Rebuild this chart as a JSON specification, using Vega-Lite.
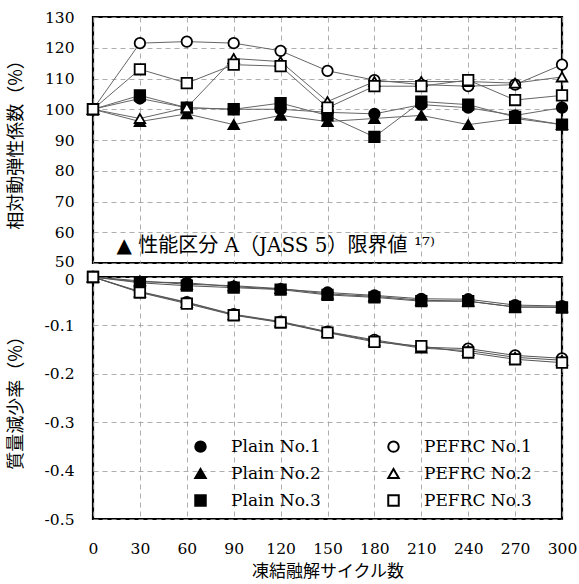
{
  "$schema": "https://vega.github.io/schema/vega-lite/v6.json",
  "background": "white",
  "padding": {"left": 5, "top": 8, "right": 4, "bottom": 0},
  "spacing": 14,
  "bounds": "flush",
  "config": {
    "font": "DejaVu Serif",
    "view": {"stroke": "black", "strokeWidth": 2.2},
    "axis": {
      "labelFont": "DejaVu Serif",
      "labelFontSize": 15.5,
      "labelColor": "black",
      "labelOverlap": false,
      "labelFlush": false,
      "ticks": false,
      "domain": false,
      "grid": true,
      "gridColor": "#999999",
      "gridDash": [5, 4],
      "gridWidth": 0.8,
      "titleFont": "Noto Sans CJK JP",
      "titleFontSize": 18,
      "titleFontWeight": "normal",
      "titleColor": "black"
    },
    "legend": {
      "orient": "none",
      "legendX": 99,
      "legendY": 421,
      "columns": 2,
      "columnPadding": 63,
      "rowPadding": 8,
      "labelFont": "DejaVu Serif",
      "labelFontSize": 17,
      "labelColor": "black",
      "labelOffset": 22,
      "symbolSize": 110,
      "symbolStrokeColor": "black",
      "symbolStrokeWidth": 2,
      "title": null
    }
  },
  "datasets": {
    "d": [
      {"series": "Plain No.1", "cycle": 0, "dyn": 100, "mass": 0},
      {"series": "Plain No.1", "cycle": 30, "dyn": 103.5, "mass": -0.01},
      {"series": "Plain No.1", "cycle": 60, "dyn": 100.5, "mass": -0.012},
      {"series": "Plain No.1", "cycle": 90, "dyn": 100, "mass": -0.02},
      {"series": "Plain No.1", "cycle": 120, "dyn": 100, "mass": -0.025},
      {"series": "Plain No.1", "cycle": 150, "dyn": 99, "mass": -0.032},
      {"series": "Plain No.1", "cycle": 180, "dyn": 98.5, "mass": -0.038},
      {"series": "Plain No.1", "cycle": 210, "dyn": 101.5, "mass": -0.045},
      {"series": "Plain No.1", "cycle": 240, "dyn": 100.5, "mass": -0.046},
      {"series": "Plain No.1", "cycle": 270, "dyn": 98, "mass": -0.058},
      {"series": "Plain No.1", "cycle": 300, "dyn": 100.5, "mass": -0.06},
      {"series": "Plain No.2", "cycle": 0, "dyn": 100, "mass": 0},
      {"series": "Plain No.2", "cycle": 30, "dyn": 96, "mass": -0.008},
      {"series": "Plain No.2", "cycle": 60, "dyn": 98.5, "mass": -0.015},
      {"series": "Plain No.2", "cycle": 90, "dyn": 95, "mass": -0.018},
      {"series": "Plain No.2", "cycle": 120, "dyn": 98, "mass": -0.024},
      {"series": "Plain No.2", "cycle": 150, "dyn": 96, "mass": -0.035},
      {"series": "Plain No.2", "cycle": 180, "dyn": 97, "mass": -0.04},
      {"series": "Plain No.2", "cycle": 210, "dyn": 98, "mass": -0.048},
      {"series": "Plain No.2", "cycle": 240, "dyn": 95, "mass": -0.05},
      {"series": "Plain No.2", "cycle": 270, "dyn": 97, "mass": -0.062},
      {"series": "Plain No.2", "cycle": 300, "dyn": 95, "mass": -0.062},
      {"series": "Plain No.3", "cycle": 0, "dyn": 100, "mass": 0},
      {"series": "Plain No.3", "cycle": 30, "dyn": 104.5, "mass": -0.012},
      {"series": "Plain No.3", "cycle": 60, "dyn": 100.5, "mass": -0.018},
      {"series": "Plain No.3", "cycle": 90, "dyn": 100, "mass": -0.022},
      {"series": "Plain No.3", "cycle": 120, "dyn": 102, "mass": -0.026},
      {"series": "Plain No.3", "cycle": 150, "dyn": 98, "mass": -0.037},
      {"series": "Plain No.3", "cycle": 180, "dyn": 91, "mass": -0.042},
      {"series": "Plain No.3", "cycle": 210, "dyn": 102.5, "mass": -0.05},
      {"series": "Plain No.3", "cycle": 240, "dyn": 101.5, "mass": -0.05},
      {"series": "Plain No.3", "cycle": 270, "dyn": 97.5, "mass": -0.062},
      {"series": "Plain No.3", "cycle": 300, "dyn": 95, "mass": -0.063},
      {"series": "PEFRC No.1", "cycle": 0, "dyn": 100, "mass": 0},
      {"series": "PEFRC No.1", "cycle": 30, "dyn": 121.5, "mass": -0.03},
      {"series": "PEFRC No.1", "cycle": 60, "dyn": 122, "mass": -0.052},
      {"series": "PEFRC No.1", "cycle": 90, "dyn": 121.5, "mass": -0.077},
      {"series": "PEFRC No.1", "cycle": 120, "dyn": 119, "mass": -0.092},
      {"series": "PEFRC No.1", "cycle": 150, "dyn": 112.5, "mass": -0.113},
      {"series": "PEFRC No.1", "cycle": 180, "dyn": 109.5, "mass": -0.13},
      {"series": "PEFRC No.1", "cycle": 210, "dyn": 108, "mass": -0.145},
      {"series": "PEFRC No.1", "cycle": 240, "dyn": 107.5, "mass": -0.148},
      {"series": "PEFRC No.1", "cycle": 270, "dyn": 108, "mass": -0.162},
      {"series": "PEFRC No.1", "cycle": 300, "dyn": 114.5, "mass": -0.168},
      {"series": "PEFRC No.2", "cycle": 0, "dyn": 100, "mass": 0},
      {"series": "PEFRC No.2", "cycle": 30, "dyn": 97, "mass": -0.031},
      {"series": "PEFRC No.2", "cycle": 60, "dyn": 100.5, "mass": -0.053},
      {"series": "PEFRC No.2", "cycle": 90, "dyn": 116.5, "mass": -0.078},
      {"series": "PEFRC No.2", "cycle": 120, "dyn": 115.5, "mass": -0.093},
      {"series": "PEFRC No.2", "cycle": 150, "dyn": 102.5, "mass": -0.114},
      {"series": "PEFRC No.2", "cycle": 180, "dyn": 109, "mass": -0.132},
      {"series": "PEFRC No.2", "cycle": 210, "dyn": 109, "mass": -0.147},
      {"series": "PEFRC No.2", "cycle": 240, "dyn": 109, "mass": -0.152},
      {"series": "PEFRC No.2", "cycle": 270, "dyn": 108.5, "mass": -0.166},
      {"series": "PEFRC No.2", "cycle": 300, "dyn": 110.5, "mass": -0.172},
      {"series": "PEFRC No.3", "cycle": 0, "dyn": 100, "mass": 0},
      {"series": "PEFRC No.3", "cycle": 30, "dyn": 113, "mass": -0.032},
      {"series": "PEFRC No.3", "cycle": 60, "dyn": 108.5, "mass": -0.055},
      {"series": "PEFRC No.3", "cycle": 90, "dyn": 114.5, "mass": -0.079},
      {"series": "PEFRC No.3", "cycle": 120, "dyn": 114, "mass": -0.094},
      {"series": "PEFRC No.3", "cycle": 150, "dyn": 100.5, "mass": -0.115},
      {"series": "PEFRC No.3", "cycle": 180, "dyn": 107.5, "mass": -0.134},
      {"series": "PEFRC No.3", "cycle": 210, "dyn": 107.5, "mass": -0.143},
      {"series": "PEFRC No.3", "cycle": 240, "dyn": 109.5, "mass": -0.156},
      {"series": "PEFRC No.3", "cycle": 270, "dyn": 103, "mass": -0.17},
      {"series": "PEFRC No.3", "cycle": 300, "dyn": 104.5, "mass": -0.177}
    ]
  },
  "vconcat": [
    {
      "width": 469,
      "height": 246,
      "layer": [
        {
          "data": {"name": "d"},
          "mark": {"type": "line", "color": "#666666", "strokeWidth": 1},
          "encoding": {
            "x": {"field": "cycle", "type": "quantitative", "scale": {"domain": [0, 300], "nice": false},
                  "axis": {"values": [0, 30, 60, 90, 120, 150, 180, 210, 240, 270, 300], "labels": false, "title": null, "minExtent": 0, "maxExtent": 0, "labelPadding": 0}},
            "y": {"field": "dyn", "type": "quantitative", "scale": {"domain": [50, 130], "nice": false, "zero": false},
                  "axis": {"values": [50, 60, 70, 80, 90, 100, 110, 120, 130], "labelOffset": {"condition": {"test": "datum.value == 50", "value": -2}, "value": 0}, "labelOverlap": false, "labelFlush": false, "title": "相対動弾性係数（%）", "labelPadding": 19, "titleX": -77, "titleBaseline": "middle"}},
            "detail": {"field": "series"}
          }
        },
        {
          "mark": {"type": "rule", "color": "black", "strokeWidth": 2.5},
          "encoding": {"y": {"datum": 60, "type": "quantitative",
                  "axis": {"values": [50, 60, 70, 80, 90, 100, 110, 120, 130], "labelOffset": {"condition": {"test": "datum.value == 50", "value": -2}, "value": 0}, "labelOverlap": false, "labelFlush": false, "title": "相対動弾性係数（%）", "labelPadding": 19, "titleX": -77, "titleBaseline": "middle"}}}
        },
        {
          "data": {"name": "d"},
          "mark": {"type": "point", "filled": true, "strokeWidth": 1.8, "size": 110, "opacity": 1},
          "encoding": {
            "x": {"field": "cycle", "type": "quantitative",
                  "axis": {"values": [0, 30, 60, 90, 120, 150, 180, 210, 240, 270, 300], "labels": false, "title": null, "minExtent": 0, "maxExtent": 0, "labelPadding": 0}},
            "y": {"field": "dyn", "type": "quantitative",
                  "axis": {"values": [50, 60, 70, 80, 90, 100, 110, 120, 130], "labelOffset": {"condition": {"test": "datum.value == 50", "value": -2}, "value": 0}, "labelOverlap": false, "labelFlush": false, "title": "相対動弾性係数（%）", "labelPadding": 19, "titleX": -77, "titleBaseline": "middle"}},
            "shape": {"field": "series", "type": "nominal",
                      "scale": {"domain": ["Plain No.1", "Plain No.2", "Plain No.3", "PEFRC No.1", "PEFRC No.2", "PEFRC No.3"],
                                "range": ["circle", "triangle-up", "square", "circle", "triangle-up", "square"]}},
            "fill": {"field": "series", "type": "nominal",
                     "scale": {"domain": ["Plain No.1", "Plain No.2", "Plain No.3", "PEFRC No.1", "PEFRC No.2", "PEFRC No.3"],
                               "range": ["black", "black", "black", "white", "white", "white"]}},
            "stroke": {"field": "series", "type": "nominal",
                       "scale": {"domain": ["Plain No.1", "Plain No.2", "Plain No.3", "PEFRC No.1", "PEFRC No.2", "PEFRC No.3"],
                                 "range": ["black", "black", "black", "black", "black", "black"]}}
          }
        },
        {
          "data": {"values": [{"label": "▲ 性能区分 A（JASS 5）限界値 ¹⁷⁾"}]},
          "mark": {"type": "text", "align": "left", "baseline": "middle", "fontSize": 20, "font": "'DejaVu Serif', 'Noto Sans CJK JP'", "color": "black"},
          "encoding": {
            "x": {"datum": 15,
                  "axis": {"values": [0, 30, 60, 90, 120, 150, 180, 210, 240, 270, 300], "labels": false, "title": null, "minExtent": 0, "maxExtent": 0, "labelPadding": 0}},
            "y": {"datum": 55.5,
                  "axis": {"values": [50, 60, 70, 80, 90, 100, 110, 120, 130], "labelOffset": {"condition": {"test": "datum.value == 50", "value": -2}, "value": 0}, "labelOverlap": false, "labelFlush": false, "title": "相対動弾性係数（%）", "labelPadding": 19, "titleX": -77, "titleBaseline": "middle"}},
            "text": {"field": "label"}
          }
        }
      ]
    },
    {
      "width": 469,
      "height": 242,
      "data": {"name": "d"},
      "layer": [
        {
          "mark": {"type": "line", "color": "#555555", "strokeWidth": 1},
          "encoding": {
            "x": {"field": "cycle", "type": "quantitative", "scale": {"domain": [0, 300], "nice": false},
                  "axis": {"values": [0, 30, 60, 90, 120, 150, 180, 210, 240, 270, 300], "labelFlush": false, "labelOverlap": false, "title": "凍結融解サイクル数", "titleFontSize": 17, "labelPadding": 22, "titlePadding": 7}},
            "y": {"field": "mass", "type": "quantitative", "scale": {"domain": [-0.5, 0], "nice": false},
                  "axis": {"values": [-0.5, -0.4, -0.3, -0.2, -0.1, 0], "labelOffset": {"condition": {"test": "datum.value == 0", "value": 2}, "value": 0}, "labelFlush": false, "labelOverlap": false, "labelExpr": "datum.value == 0 ? '0' : '-' + format(-datum.value, '.1f')", "title": "質量減少率（%）", "labelPadding": 19, "titleX": -77, "titleBaseline": "middle"}},
            "detail": {"field": "series"}
          }
        },
        {
          "mark": {"type": "point", "filled": true, "strokeWidth": 1.8, "size": 110, "opacity": 1},
          "encoding": {
            "x": {"field": "cycle", "type": "quantitative",
                  "axis": {"values": [0, 30, 60, 90, 120, 150, 180, 210, 240, 270, 300], "labelFlush": false, "labelOverlap": false, "title": "凍結融解サイクル数", "titleFontSize": 17, "labelPadding": 22, "titlePadding": 7}},
            "y": {"field": "mass", "type": "quantitative",
                  "axis": {"values": [-0.5, -0.4, -0.3, -0.2, -0.1, 0], "labelOffset": {"condition": {"test": "datum.value == 0", "value": 2}, "value": 0}, "labelFlush": false, "labelOverlap": false, "labelExpr": "datum.value == 0 ? '0' : '-' + format(-datum.value, '.1f')", "title": "質量減少率（%）", "labelPadding": 19, "titleX": -77, "titleBaseline": "middle"}},
            "shape": {"field": "series", "type": "nominal"},
            "fill": {"field": "series", "type": "nominal"},
            "stroke": {"field": "series", "type": "nominal"}
          }
        }
      ]
    }
  ]
}
